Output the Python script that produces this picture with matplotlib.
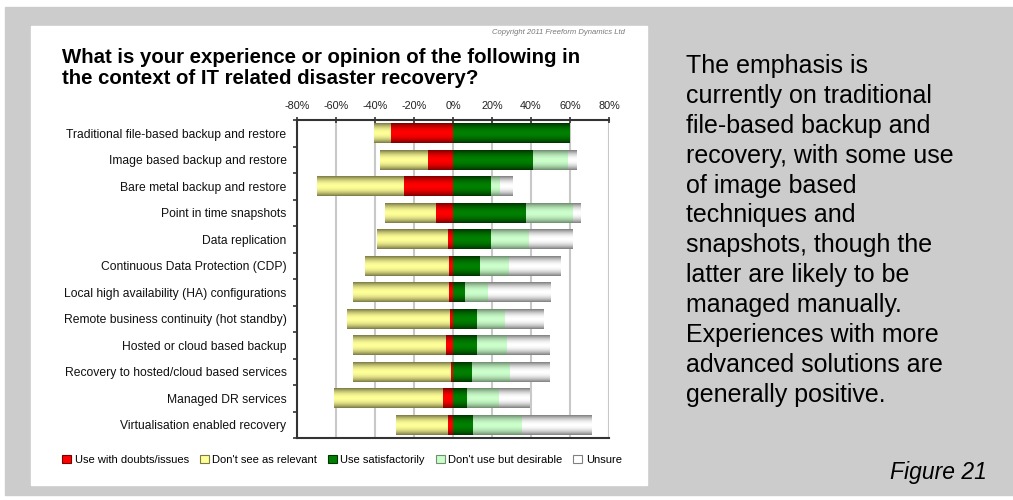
import matplotlib
matplotlib.use("Agg")
import matplotlib.pyplot as plt
from matplotlib.patches import Rectangle, Patch
from matplotlib.colors import to_rgb
import numpy as np

plt.rcParams['font.family'] = ['Liberation Sans', 'DejaVu Sans']

categories = [
    "Traditional file-based backup and restore",
    "Image based backup and restore",
    "Bare metal backup and restore",
    "Point in time snapshots",
    "Data replication",
    "Continuous Data Protection (CDP)",
    "Local high availability (HA) configurations",
    "Remote business continuity (hot standby)",
    "Hosted or cloud based backup",
    "Recovery to hosted/cloud based services",
    "Managed DR services",
    "Virtualisation enabled recovery",
]
doubts = [31.9, 13.0, 25.3, 8.9, 3.2, 2.2, 2.2, 1.7, 3.8, 1.2, 5.3, 3.2]
not_relevant = [8.7, 24.5, 44.5, 26.1, 35.9, 43.0, 49.2, 52.7, 47.6, 50.2, 55.8, 26.2]
satisfied = [59.7, 40.8, 19.3, 37.2, 19.3, 13.7, 6.0, 12.1, 12.1, 9.6, 7.0, 10.1]
desirable = [0.0, 18.1, 4.6, 24.1, 19.9, 14.8, 11.7, 14.4, 15.4, 19.4, 16.4, 25.1]
unsure = [0.0, 4.4, 6.6, 4.1, 22.1, 26.6, 31.8, 19.9, 22.0, 20.5, 15.8, 35.8]
ticks = [-80, -60, -40, -20, 0, 20, 40, 60, 80]

notes = ("The emphasis is\ncurrently on traditional\nfile-based backup and\n"
         "recovery, with some use\nof image based\ntechniques and\n"
         "snapshots, though the\nlatter are likely to be\nmanaged manually.\n"
         "Experiences with more\nadvanced solutions are\ngenerally positive.")

# (middle colour, edge colour) for the Excel-like shaded bars
shades = {
    "red": ("#ff0000", "#7a0000"),
    "yellow": ("#ffff99", "#7a7a45"),
    "green": ("#008000", "#003300"),
    "lgreen": ("#ccffcc", "#6f8f6f"),
    "gray": ("#ffffff", "#808080"),
}


def gradient(mid, edge, n=40):
    t = np.abs(np.linspace(-1, 1, n)) ** 2
    m, e = np.array(to_rgb(mid)), np.array(to_rgb(edge))
    return (m[None, :] * (1 - t[:, None]) + e[None, :] * t[:, None])[:, None, :]


def shaded_barh(ax, y, width, left, key):
    bars = ax.barh(y, width, left=left, height=0.75, color="none", zorder=2)
    img = gradient(*shades[key])
    for b in bars:
        x0, w = b.get_x(), b.get_width()
        if w == 0:
            continue
        y0, h = b.get_y(), b.get_height()
        ax.imshow(img, extent=[x0, x0 + w, y0 + h, y0], aspect="auto",
                  interpolation="bilinear", zorder=2)
    return bars


fig = plt.figure(figsize=(10.13, 5.0), dpi=100)
fig.patch.set_facecolor("white")
W, H = 1013, 500
fig.add_artist(Rectangle((5 / W, 1 - 495 / H), 1, (495 - 7) / H,
                         transform=fig.transFigure, color="#cccccc", zorder=0))
fig.add_artist(Rectangle((31 / W, 1 - 485 / H), (647 - 31) / W, (485 - 26) / H,
                         transform=fig.transFigure, color="white", zorder=0))

ax = fig.add_axes([297 / W, 1 - 438 / H, (609 - 297) / W, (438 - 120) / H])
ax.set_facecolor("none")

y = np.arange(len(categories))
neg_red = -np.array(doubts)
neg_yel = -np.array(not_relevant)
sat = np.array(satisfied)
des = np.array(desirable)

shaded_barh(ax, y, neg_red, 0, "red")
shaded_barh(ax, y, neg_yel, neg_red, "yellow")
shaded_barh(ax, y, sat, 0, "green")
shaded_barh(ax, y, des, sat, "lgreen")
shaded_barh(ax, y, unsure, sat + des, "gray")

ax.set_xlim(-80, 80)
ax.set_ylim(len(categories) - 0.5, -0.5)
ax.xaxis.tick_top()
ax.set_xticks(ticks)
ax.set_xticklabels([f"{t}%" for t in ticks], fontsize=7.8, color="#222222")
ax.tick_params(axis="x", direction="inout", length=5, width=1.2, color="#333333", pad=4)
ax.grid(axis="x", color="#c8c8c8", linewidth=1.5, zorder=0)
ax.set_axisbelow(True)

ax.set_yticks(y)
ax.set_yticklabels(categories, fontsize=8.7, color="#111111")
ax.tick_params(axis="y", length=0, pad=7.5)
ax.set_yticks(np.arange(-0.5, len(categories), 1), minor=True)
ax.tick_params(axis="y", which="minor", length=3, width=1.2, color="#333333")

for s in ["left", "top", "bottom"]:
    ax.spines[s].set_color("#333333")
    ax.spines[s].set_linewidth(1.5)
ax.spines["right"].set_visible(False)

fig.text(62 / W, 1 - 68 / H,
         "What is your experience or opinion of the following in\n"
         "the context of IT related disaster recovery?",
         fontsize=14.7, fontweight="bold", va="center", ha="left", linespacing=1.12)
fig.text(625 / W, 1 - 32 / H, "Copyright 2011 Freeform Dynamics Ltd",
         fontsize=5.5, style="italic", color="#777777", ha="right", va="center")

labels = ["Use with doubts/issues", "Don't see as relevant", "Use satisfactorily",
          "Don't use but desirable", "Unsure"]
handles = [Patch(facecolor=shades[k][0], edgecolor=shades[k][1], linewidth=0.8)
           for k in ["red", "yellow", "green", "lgreen", "gray"]]
fig.legend(handles, labels, loc="center", bbox_to_anchor=(342 / W, 1 - 460 / H),
           ncol=5, frameon=False, fontsize=8.0, handlelength=0.8, handleheight=0.8,
           handletextpad=0.3, columnspacing=1.0)

fig.text(686 / W, 1 - 54 / H, notes, fontsize=18, va="top", ha="left",
         linespacing=1.31, color="black")
fig.text(987 / W, 1 - 472 / H, "Figure 21", fontsize=16.5, style="italic",
         ha="right", va="center")

fig.savefig("out.png", dpi=100, facecolor=fig.get_facecolor())
